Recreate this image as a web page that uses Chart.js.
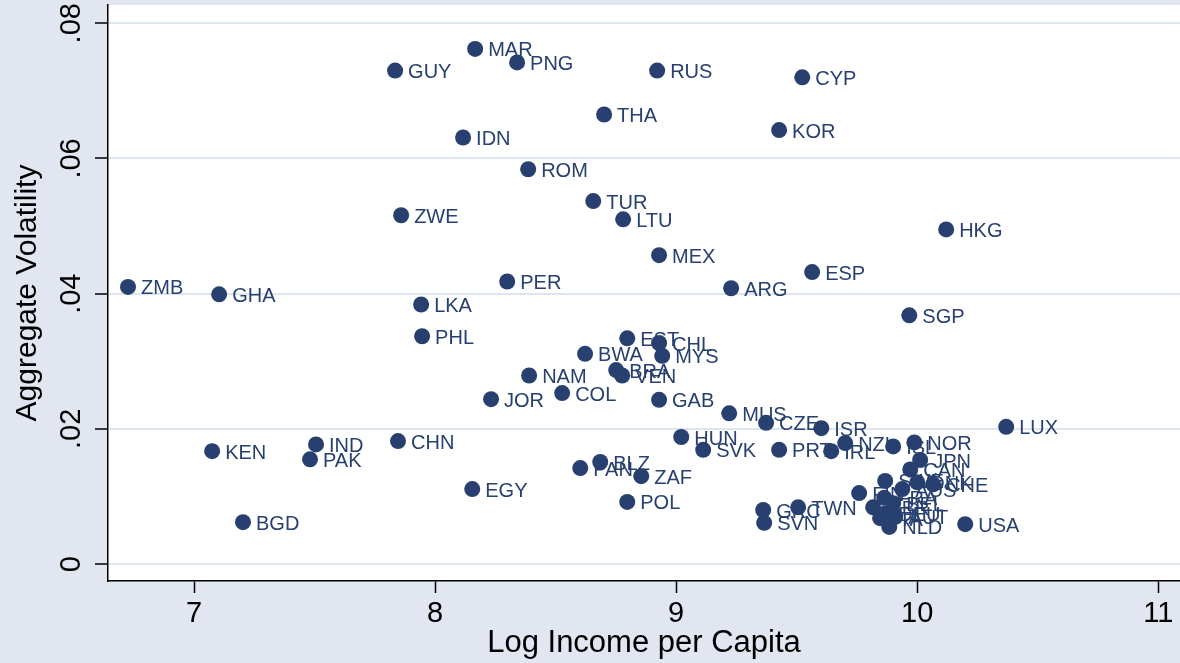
<!DOCTYPE html>
<html>
<head>
<meta charset="utf-8">
<script src="https://cdn.jsdelivr.net/npm/chart.js@4"></script>
<style>
  html, body { margin: 0; padding: 0; background: #e1e6f0; }
  #chart { display: block; }
</style>
</head>
<body>
<canvas id="chart" width="1180" height="663"></canvas>
<script>
// --- data ---
const countries = [
  "ZMB", "GHA", "KEN", "BGD", "IND", "PAK", "CHN", "GUY", "ZWE", "LKA",
  "PHL", "MAR", "PNG", "IDN", "EGY", "PER", "JOR", "NAM", "ROM", "COL",
  "PAN", "BLZ", "BWA", "BRA", "VEN", "EST", "CHL", "MYS", "GAB", "TUR",
  "LTU", "THA", "RUS", "MEX", "ZAF", "POL", "HUN", "SVK", "ARG", "MUS",
  "CZE", "KOR", "CYP", "ESP", "PRT", "IRL", "ISR", "NZL", "GRC", "SVN",
  "TWN", "HKG", "SGP", "LUX", "USA", "NOR", "ISL", "JPN", "CAN", "SWE",
  "DNK", "CHE", "AUS", "FIN", "FRA", "BEL", "GBR", "DEU", "AUT", "ITA",
  "NLD"
];
const logIncome = [
  6.726, 7.104, 7.075, 7.203, 7.506, 7.481, 7.846, 7.834, 7.859, 7.942,
  7.946, 8.166, 8.340, 8.116, 8.154, 8.299, 8.232, 8.390, 8.386, 8.527,
  8.602, 8.685, 8.622, 8.751, 8.776, 8.797, 8.929, 8.942, 8.929, 8.656,
  8.780, 8.701, 8.921, 8.929, 8.855, 8.797, 9.021, 9.112, 9.228, 9.220,
  9.373, 9.427, 9.523, 9.564, 9.427, 9.643, 9.602, 9.701, 9.361, 9.365,
  9.506, 10.120, 9.967, 10.369, 10.199, 9.988, 9.900, 10.012, 9.971, 9.867,
  10.000, 10.066, 9.938, 9.759, 9.863, 9.900, 9.817, 9.867, 9.909, 9.846,
  9.884
];
const volatility = [
  0.0410, 0.0399, 0.0167, 0.0062, 0.0177, 0.0155, 0.0182, 0.0730, 0.0516, 0.0384,
  0.0337, 0.0762, 0.0742, 0.0631, 0.0111, 0.0418, 0.0244, 0.0279, 0.0584, 0.0253,
  0.0142, 0.0151, 0.0311, 0.0287, 0.0279, 0.0334, 0.0327, 0.0308, 0.0243, 0.0537,
  0.0510, 0.0665, 0.0730, 0.0457, 0.0130, 0.0092, 0.0188, 0.0169, 0.0408, 0.0223,
  0.0209, 0.0642, 0.0720, 0.0432, 0.0169, 0.0167, 0.0201, 0.0179, 0.0080, 0.0061,
  0.0084, 0.0495, 0.0368, 0.0203, 0.0059, 0.0180, 0.0174, 0.0154, 0.0140, 0.0123,
  0.0121, 0.0118, 0.0111, 0.0105, 0.0098, 0.0090, 0.0084, 0.0075, 0.0070, 0.0068,
  0.0055
];
const xTicks = [7, 8, 9, 10, 11];
const yTicks = [0, 0.02, 0.04, 0.06, 0.08];
const yTickLabels = ["0", ".02", ".04", ".06", ".08"];

const NAVY = "#27406f";
const BG = "#e1e6f0";

// --- plugins: background panels and point labels ---
const backgroundPlugin = {
  id: "background",
  beforeDraw(chart) {
    const { ctx, chartArea } = chart;
    ctx.save();
    ctx.fillStyle = BG;
    ctx.fillRect(0, 0, chart.width, chart.height);
    ctx.fillStyle = "#ffffff";
    ctx.fillRect(chartArea.left, chartArea.top,
      chartArea.right - chartArea.left, chartArea.bottom - chartArea.top);
    ctx.restore();
  },
};

const pointLabels = {
  id: "pointLabels",
  afterDatasetsDraw(chart) {
    const { ctx } = chart;
    const meta = chart.getDatasetMeta(0);
    ctx.save();
    ctx.font = '20px "Liberation Sans", Arial, sans-serif';
    ctx.fillStyle = NAVY;
    ctx.textAlign = "left";
    ctx.textBaseline = "middle";
    meta.data.forEach((pt, i) => {
      ctx.fillText(countries[i], pt.x + 13, pt.y + 2);
    });
    ctx.restore();
  },
};

const font = (size) => ({ family: '"Liberation Sans", Arial, sans-serif', size });

new Chart(document.getElementById("chart").getContext("2d"), {
  type: "scatter",
  data: {
    datasets: [{
      data: logIncome.map((x, i) => ({ x, y: volatility[i] })),
      backgroundColor: NAVY,
      borderWidth: 0,
      pointRadius: 8,
      pointHoverRadius: 8,
    }],
  },
  options: {
    responsive: false,
    animation: false,
    devicePixelRatio: 1,
    layout: { autoPadding: false, padding: { top: 5, right: 0, left: 0, bottom: 0 } },
    plugins: { legend: { display: false }, tooltip: { enabled: false } },
    scales: {
      x: {
        type: "linear",
        min: 6.643,
        max: 11.09,
        afterBuildTicks: (scale) => { scale.ticks = xTicks.map((v) => ({ value: v })); },
        afterFit: (scale) => {
          scale.height = 82;
          scale.paddingLeft = 0;
          scale.paddingRight = 0;
        },
        ticks: { color: "#000", font: font(29), padding: 4, maxRotation: 0 },
        grid: { drawOnChartArea: false, drawTicks: true, tickLength: 12, tickColor: "#000", tickWidth: 1.5 },
        border: { color: "#000", width: 1.5 },
        title: { display: true, text: "Log Income per Capita", color: "#000", font: font(31), padding: { top: 0, bottom: 1 } },
      },
      y: {
        type: "linear",
        min: -0.0025,
        max: 0.0827,
        afterBuildTicks: (scale) => { scale.ticks = yTicks.map((v) => ({ value: v })); },
        afterFit: (scale) => {
          scale.width = 108;
          scale.paddingTop = 0;
          scale.paddingBottom = 0;
        },
        ticks: {
          color: "#000",
          font: font(29),
          padding: 3,
          minRotation: 90,
          maxRotation: 90,
          crossAlign: "center",
          callback: (value, index) => yTickLabels[index],
        },
        grid: { color: "#dfe5ef", lineWidth: 2, drawTicks: true, tickLength: 13, tickColor: "#000", tickWidth: 1.5 },
        border: { color: "#000", width: 1.5 },
        title: { display: true, text: "Aggregate Volatility", color: "#000", font: font(30), padding: { top: 10, bottom: 8 } },
      },
    },
  },
  plugins: [backgroundPlugin, pointLabels],
});
</script>
</body>
</html>
